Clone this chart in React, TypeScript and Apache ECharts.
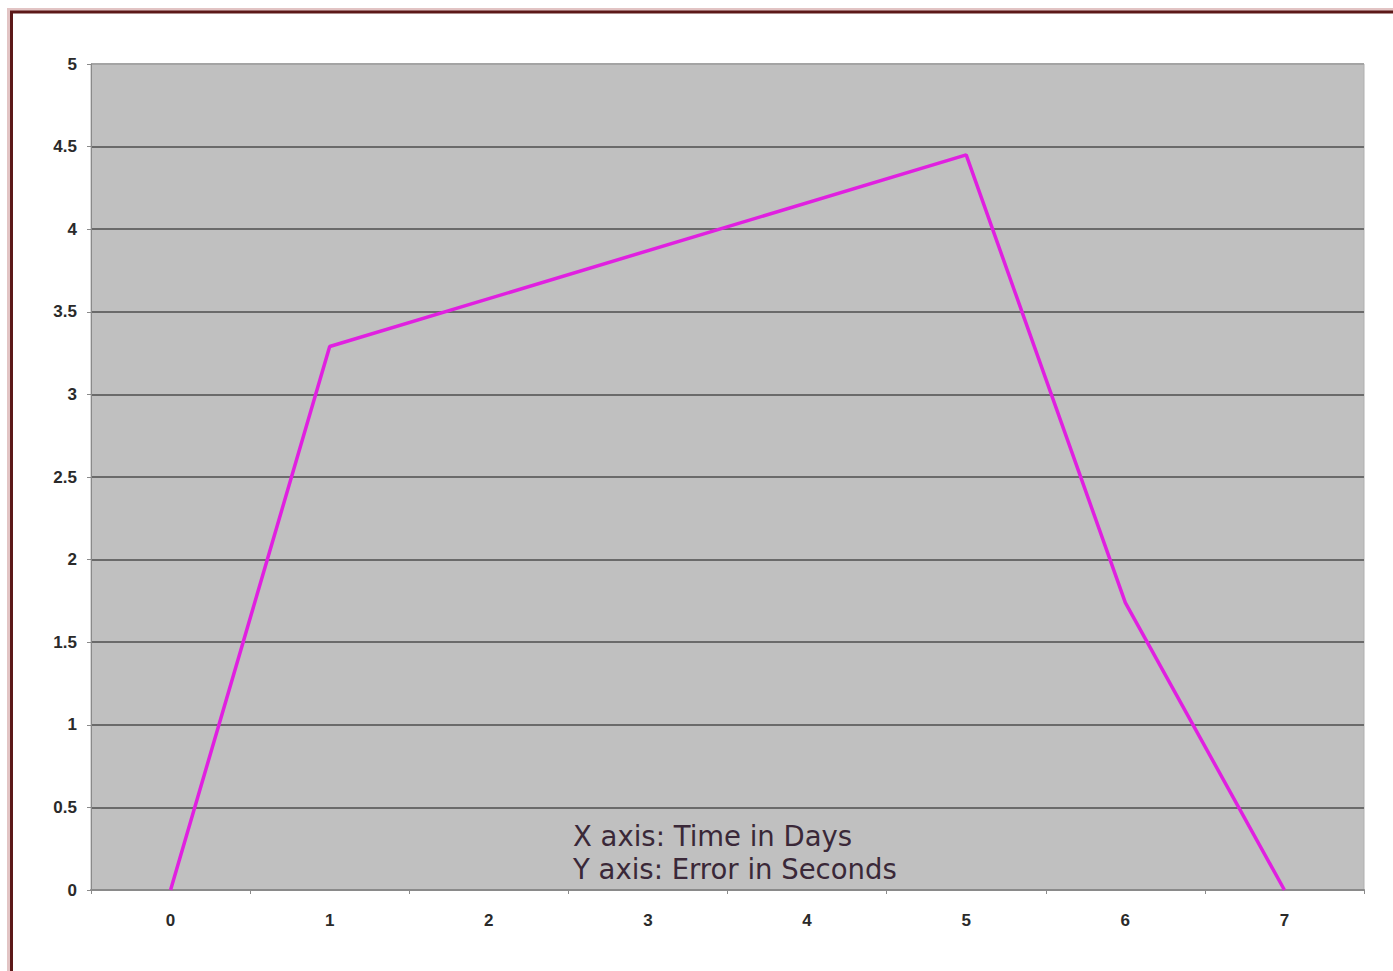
import React, { useEffect, useRef } from "react";
import * as echarts from "echarts";

const days = ["0", "1", "2", "3", "4", "5", "6", "7"];
// Only the measured points are shown as kinks; days 2-4 lie on the straight segment
const errorSeconds: (number | null)[] = [0, 3.29, null, null, null, 4.45, 1.74, 0];
const noteLines = ["X axis: Time in Days", "Y axis: Error in Seconds"];

export default function App() {
  const ref = useRef<HTMLDivElement>(null);
  useEffect(() => {
    if (!ref.current) return;
    const chart = echarts.init(ref.current, undefined, { renderer: "svg" });
    const splitColors = ["#707070", "#6a6a6a", "#6a6a6a", "#6a6a6a", "#6a6a6a", "#6a6a6a", "#6a6a6a", "#6a6a6a", "#6a6a6a", "#6a6a6a", "#a4a4a4"];
    const labelFont = {
      color: "#2a2a2a",
      fontSize: 17,
      fontWeight: "bold" as const,
      fontFamily: "Arial, Liberation Sans, sans-serif",
    };
    chart.setOption({
      animation: false,
      backgroundColor: "#ffffff",
      grid: {
        left: 91,
        top: 64,
        right: 29,
        bottom: 81,
        show: true,
        backgroundColor: "#c0c0c0",
        borderColor: "#b0b0b0",
        borderWidth: 1,
        containLabel: false,
      },
      xAxis: {
        type: "category",
        data: days,
        boundaryGap: true,
        axisLine: { show: true, lineStyle: { color: "#8a8a8a", width: 2 } },
        axisTick: { show: true, length: 4, lineStyle: { color: "#8a8a8a" } },
        axisLabel: { ...labelFont, margin: 22 },
        splitLine: { show: false },
      },
      yAxis: {
        type: "value",
        min: 0,
        max: 5,
        interval: 0.5,
        axisLine: { show: true, lineStyle: { color: "#8a8a8a", width: 1 } },
        axisTick: { show: true, length: 4, lineStyle: { color: "#8a8a8a" } },
        axisLabel: { ...labelFont, margin: 14 },
        splitLine: { show: true, lineStyle: { color: splitColors, width: 2 } },
      },
      series: [
        {
          type: "line",
          data: errorSeconds,
          connectNulls: true,
          showSymbol: false,
          symbol: "none",
          lineStyle: { color: "#e020e0", width: 3.5 },
        },
      ],
      graphic: [
        {
          type: "rect",
          silent: true,
          shape: { x: 8.5, y: 9.5, width: 2000, height: 2000 },
          style: { fill: "none", stroke: "#e2c4c4", lineWidth: 3 },
        },
        {
          type: "rect",
          silent: true,
          shape: { x: 11.5, y: 12, width: 2000, height: 2000 },
          style: { fill: "none", stroke: "#5c1818", lineWidth: 3 },
        },
        {
          type: "text",
          left: 573,
          top: 819,
          silent: true,
          style: {
            text: noteLines.join("\n"),
            fill: "#3a2838",
            fontSize: 27.5,
            lineHeight: 33,
            fontFamily: "DejaVu Sans, Verdana, sans-serif",
          },
        },
      ],
    });
    return () => chart.dispose();
  }, []);
  return (
    <div
      ref={ref}
      style={{ position: "fixed", left: 0, top: 0, width: 1393, height: 971 }}
    />
  );
}
